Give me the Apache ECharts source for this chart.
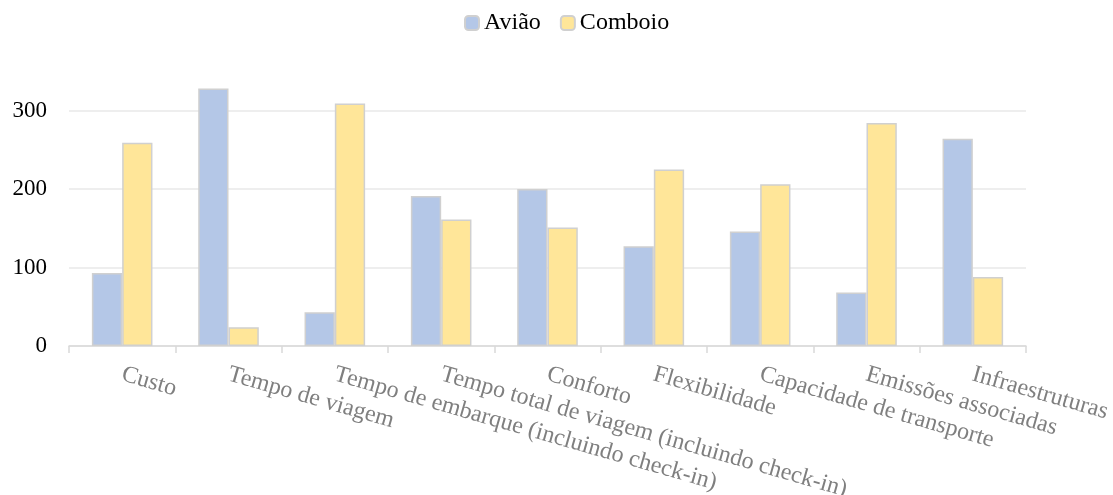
<!DOCTYPE html>
<html>
<head>
<meta charset="utf-8">
<script src="https://cdn.jsdelivr.net/npm/echarts@6/dist/echarts.min.js"></script>
<style>
  html, body { margin: 0; padding: 0; background: #fff; }
  #chart { width: 1113px; height: 495px; }
</style>
</head>
<body>
<div id="chart"></div>
<script>
// categorias e valores
var categories = ['Custo', 'Tempo de viagem', 'Tempo de embarque (incluindo check-in)',
  'Tempo total de viagem (incluindo check-in)', 'Conforto', 'Flexibilidade',
  'Capacidade de transporte', 'Emissões associadas', 'Infraestruturas'];
var aviao = [93, 328, 43, 191, 200, 127, 146, 68, 264];
var comboio = [259, 24, 309, 161, 151, 225, 206, 284, 88];
var yTicks = [0, 100, 200, 300];

var font = 'Liberation Serif';
var chart = echarts.init(document.getElementById('chart'));

chart.setOption({
  animation: false,
  textStyle: { fontFamily: font },
  legend: {
    top: 6,
    left: 459,
    itemWidth: 14,
    itemHeight: 14,
    itemGap: 19,
    textStyle: { fontFamily: font, fontSize: 24, color: '#000' },
    data: ['Avião', 'Comboio']
  },
  grid: { left: 69, right: 87, top: 32, bottom: 149, containLabel: false, outerBoundsMode: 'none' },
  xAxis: {
    type: 'category',
    data: categories,
    axisLine: { lineStyle: { color: '#d9d9d9', width: 1.5 } },
    axisTick: { show: true, length: 7, lineStyle: { color: '#d9d9d9', width: 1.5 } },
    axisLabel: {
      rotate: -16,
      interval: 0,
      margin: 28,
      fontFamily: font,
      fontSize: 24,
      color: '#7f7f7f'
    }
  },
  yAxis: {
    type: 'value',
    min: 0,
    max: 400,
    interval: 100,
    axisLine: { show: false },
    axisTick: { show: false },
    splitLine: { showMaxLine: false, lineStyle: { color: '#e8e8e8', width: 1.5 } },
    axisLabel: {
      margin: 22,
      fontFamily: font,
      fontSize: 23,
      color: '#000',
      showMaxLabel: false,
      formatter: function (v) { return yTicks.indexOf(v) >= 0 ? String(v) : ''; }
    }
  },
  series: [
    {
      name: 'Avião',
      type: 'bar',
      data: aviao,
      barGap: '0%',
      barCategoryGap: '43%',
      itemStyle: { color: '#b4c7e7', borderColor: '#d0d0d0', borderWidth: 1.5 }
    },
    {
      name: 'Comboio',
      type: 'bar',
      data: comboio,
      itemStyle: { color: '#ffe699', borderColor: '#d0d0d0', borderWidth: 1.5 }
    }
  ]
});
</script>
</body>
</html>
